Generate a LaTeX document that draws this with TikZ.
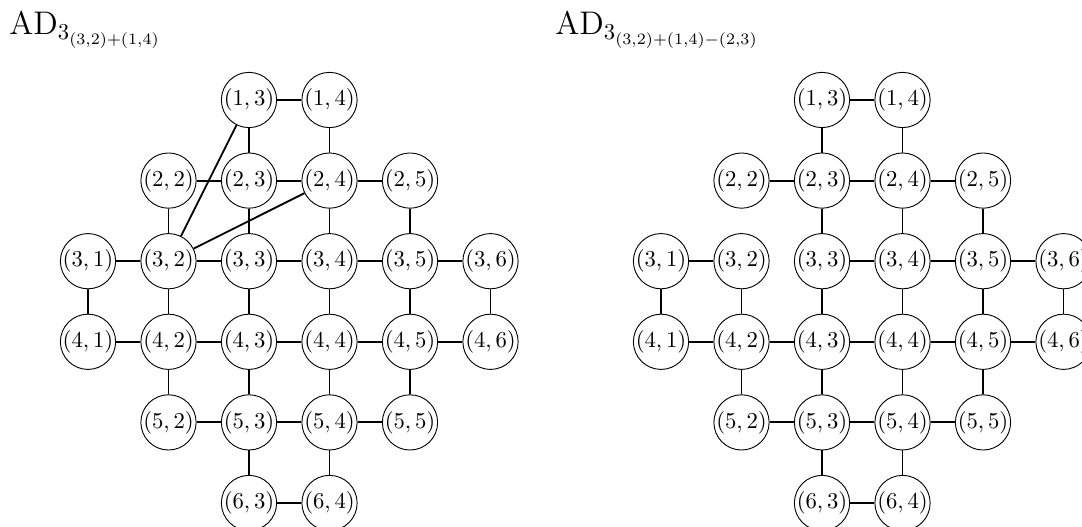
\documentclass[tikz,border=0pt]{standalone}
\tikzset{
  vtx/.style={circle,draw,line width=0.4pt,minimum size=23.3pt,inner sep=0pt,fill=white},
  edge/.style={line width=0.8pt},
  ttl/.style={anchor=base west,inner sep=0pt,font=\Large}
}
\begin{document}
\begin{tikzpicture}[x=0.44pt,y=-0.44pt]
\useasboundingbox (0,0) rectangle (1082,527);
% titles
\node[ttl] (tL) at (9,35) {$\mathrm{AD}_{3_{(3,2)+(1,4)}}$};
\node[ttl] (tR) at (555,35) {$\mathrm{AD}_{3_{(3,2)+(1,4)-(2,3)}}$};
% vertices of both graphs
\foreach \g/\ox in {L/88,R/661} {
  \foreach \r/\cols in {1/{3,4},2/{2,3,4,5},3/{1,2,3,4,5,6},4/{1,2,3,4,5,6},5/{2,3,4,5},6/{3,4}} {
    \foreach \c in \cols {
      \node[vtx] (\g\r\c) at ({\ox+(\c-1)*80.5},{100+(\r-1)*80.6}) {$(\r,\c)$};
    }
  }
}
% grid edges shared by both graphs
\foreach \g in {L,R} {
  \foreach \a/\b in {13/14,22/23,23/24,24/25,31/32,33/34,34/35,35/36,
                     41/42,42/43,43/44,44/45,45/46,52/53,53/54,54/55,63/64,
                     13/23,14/24,23/33,24/34,25/35,
                     31/41,32/42,33/43,34/44,35/45,36/46,
                     42/52,43/53,44/54,45/55,53/63,54/64} {
    \draw[edge] (\g\a) -- (\g\b);
  }
}
% edges only in the left graph
\draw[edge] (L32) -- (L33);
\draw[edge] (L22) -- (L32);
\draw[edge] (L32) -- (L13);
\draw[edge] (L32) -- (L24);
\end{tikzpicture}
\end{document}
